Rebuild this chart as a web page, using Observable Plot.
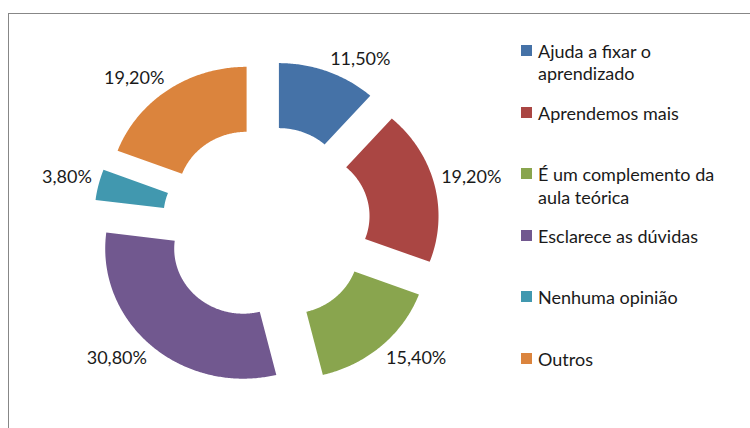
<!DOCTYPE html>
<html><head><meta charset="utf-8">
<script src="https://cdn.jsdelivr.net/npm/d3@7"></script>
<script src="https://cdn.jsdelivr.net/npm/@observablehq/plot@0.6"></script>
<style>
html,body{margin:0;padding:0;background:#fff;}
#wrap{position:relative;width:750px;height:428px;overflow:hidden;font-family:Lato,sans-serif;}
#frame{position:absolute;left:8px;top:13px;width:780px;height:520px;border:1.5px solid #878787;box-sizing:border-box;}
#chart{position:absolute;left:0;top:0;}
#legend{position:absolute;left:521px;top:40px;}
.item{position:absolute;left:0;display:flex;align-items:flex-start;}
.sw{width:11px;height:11px;margin-top:5px;margin-right:6px;flex:none;}
.lab{width:205px;font-size:18px;line-height:22.4px;color:#1a1a1a;}
</style></head>
<body>
<div id="wrap"><div id="frame"></div><div id="chart"></div><div id="legend"></div></div>
<script>
const categories = ["Ajuda a fixar o aprendizado", "Aprendemos mais", "É um complemento da aula teórica", "Esclarece as dúvidas", "Nenhuma opinião", "Outros"];
const values = [11.5, 19.2, 15.4, 30.8, 3.8, 19.2];
const colors = ["#4572A7", "#AA4643", "#89A54E", "#71588F", "#4198AF", "#DB843D"];

const fmt = v => v.toFixed(2).replace(".", ",") + "%";
const total = d3.sum(values);
const rOuter = 1, rInner = 0.5, explode = 0.254, labelR = 1.05;

let acc = 0;
const slices = categories.map((c, i) => {
  const a0 = acc / total * 2 * Math.PI;
  acc += values[i];
  const a1 = acc / total * 2 * Math.PI;
  const mid = (a0 + a1) / 2;
  const cx = explode * Math.sin(mid), cy = -explode * Math.cos(mid);
  return {c, v: values[i], a0, a1, mid, cx, cy,
    lx: cx + labelR * Math.sin(mid), ly: cy - labelR * Math.cos(mid), label: fmt(values[i])};
});

const pts = slices.flatMap(s => {
  const n = Math.max(4, Math.ceil((s.a1 - s.a0) / 0.01));
  const out = [];
  for (let k = 0; k <= n; k++) {
    const a = s.a0 + (s.a1 - s.a0) * k / n;
    out.push({c: s.c, x: s.cx + rOuter * Math.sin(a), y: s.cy - rOuter * Math.cos(a)});
  }
  for (let k = n; k >= 0; k--) {
    const a = s.a0 + (s.a1 - s.a0) * k / n;
    out.push({c: s.c, x: s.cx + rInner * Math.sin(a), y: s.cy - rInner * Math.cos(a)});
  }
  return out;
});

const W = 750, H = 428, CX = 266, CY = 223.5, RX = 138, RY = 130;
const quad = (right, top) => slices.filter(s => (Math.sin(s.mid) >= 0) === right && (Math.cos(s.mid) >= 0) === top);
const textOpts = (right, top) => ({x: "lx", y: "ly", text: "label", fontSize: 18, fill: "#1a1a1a",
  textAnchor: right ? "start" : "end", lineAnchor: top ? "bottom" : "top"});

const plot = Plot.plot({
  width: W, height: H,
  margin: 0,
  style: {fontFamily: "Lato, sans-serif", fontSize: "18px", background: "transparent"},
  x: {domain: [-CX / RX, (W - CX) / RX], range: [0, W], axis: null},
  y: {domain: [-CY / RY, (H - CY) / RY], range: [0, H], axis: null},
  color: {domain: categories, range: colors},
  marks: [
    Plot.line(pts, {x: "x", y: "y", z: "c", fill: "c", stroke: "none", curve: "linear-closed"}),
    Plot.text(quad(true, true), textOpts(true, true)),
    Plot.text(quad(true, false), textOpts(true, false)),
    Plot.text(quad(false, true), textOpts(false, true)),
    Plot.text(quad(false, false), textOpts(false, false))
  ]
});
document.getElementById("chart").appendChild(plot);

const legend = document.getElementById("legend");
categories.forEach((c, i) => {
  const item = document.createElement("div");
  item.className = "item";
  item.style.top = (i * 61.6) + "px";
  const sw = document.createElement("div");
  sw.className = "sw";
  sw.style.background = colors[i];
  const lab = document.createElement("div");
  lab.className = "lab";
  lab.textContent = c;
  item.appendChild(sw);
  item.appendChild(lab);
  legend.appendChild(item);
});
</script>
</body></html>
